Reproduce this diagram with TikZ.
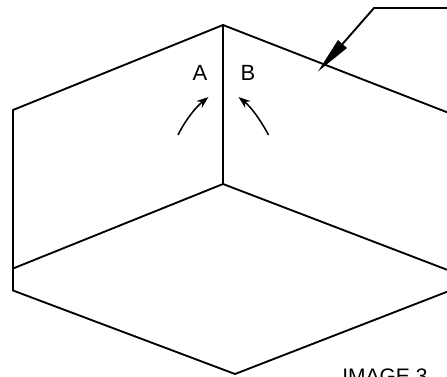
\documentclass[tikz,border=0pt]{standalone}
\usepackage{fontspec}
\setmainfont{Liberation Sans}
\usetikzlibrary{arrows.meta}
\begin{document}
\begin{tikzpicture}[x=0.75pt,y=-0.75pt,
  edge/.style={line width=1.4pt,line join=round,line cap=round},
  thin arrow/.style={line width=1.15pt,-{Stealth[length=9pt,width=6.5pt]}},
  label text/.style={font=\fontsize{16.5}{18}\selectfont,inner sep=0pt,text=black},
  caption text/.style={font=\fontsize{15.75}{18}\selectfont,inner sep=0pt,text=black}]
\path[use as bounding box] (0,0) rectangle (447,376);
\clip (0,0) rectangle (447,376);
\fill[white] (0,0) rectangle (447,376);
\coordinate (top) at (223,25);
\coordinate (lt) at (13,110);
\coordinate (lm) at (13,268.5);
\coordinate (lb) at (13,290.5);
\coordinate (bot) at (235,374);
\coordinate (cen) at (223,184);
\coordinate (rt) at (449,113);
\coordinate (rm) at (449,270.5);
\coordinate (rb) at (449,291);
\draw[edge] (rt) -- (top) -- (lt) -- (lb) -- (bot) -- (rb);
\draw[edge] (top) -- (cen) -- (rm);
\draw[edge] (cen) -- (lm);
\coordinate (lead0) at (449,8);
\coordinate (lead1) at (374,8);
\coordinate (leadbase) at (342.5,44);
\coordinate (leadtip) at (318,71.5);
\coordinate (ab1) at (338,40);
\coordinate (ab2) at (347,48);
\draw[line width=1.4pt,line join=miter] (lead0) -- (lead1) -- (leadbase);
\fill[black] (ab1) -- (leadtip) -- (ab2) -- cycle;
\node[label text,anchor=base] (A) at (200,80) {A};
\node[label text,anchor=base] (B) at (248,80) {B};
\coordinate (a0) at (178,135);
\coordinate (a1) at (208.5,97);
\coordinate (b0) at (268.5,135);
\coordinate (b1) at (238.5,97);
\draw[thin arrow] (a0) .. controls (186,119) and (196,107) .. (a1);
\draw[thin arrow] (b0) .. controls (260,119) and (251,107) .. (b1);
\node[caption text,anchor=base west] (cap) at (342,383) {IMAGE 3};
\end{tikzpicture}
\end{document}
